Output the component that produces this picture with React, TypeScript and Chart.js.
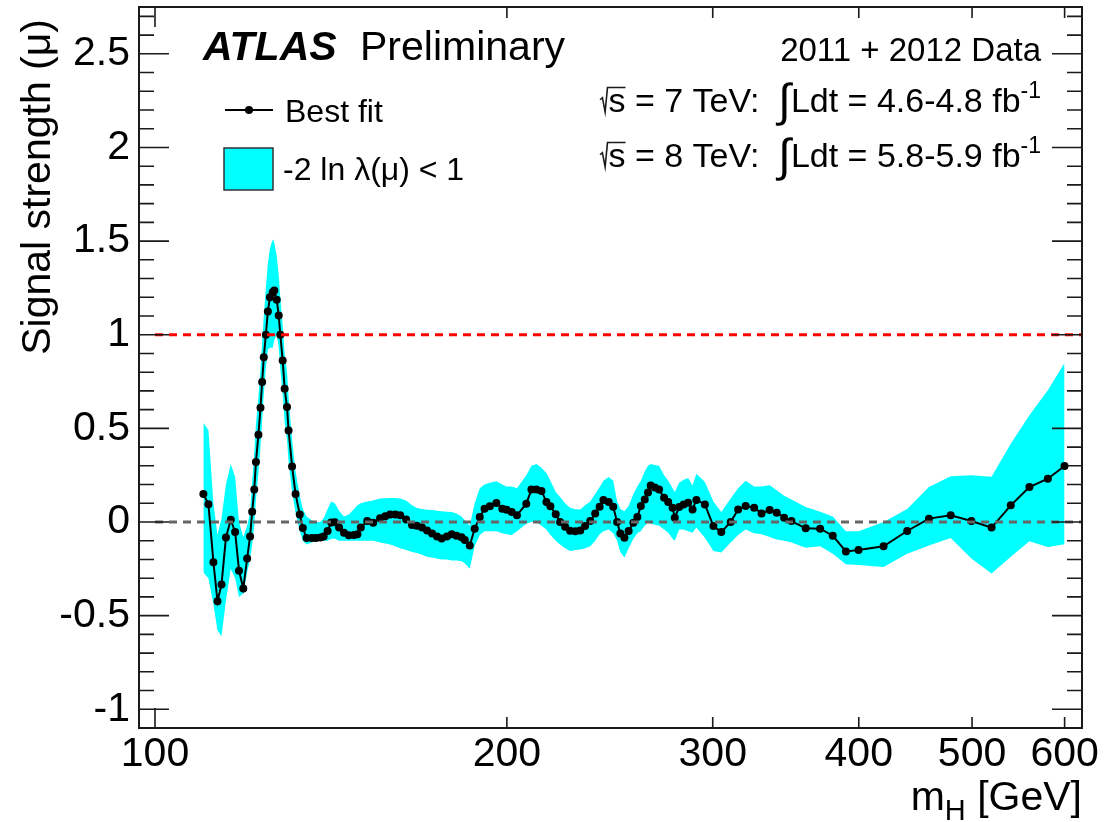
import React, { useEffect, useRef } from "react";
import { Chart, registerables } from "chart.js";

Chart.register(...registerables);

// ---------------- data ----------------
const MASS = [
  110.0, 111.1, 112.2, 113.1, 114.0, 115.0, 116.1, 117.1, 118.0, 119.0, 119.9, 120.6, 121.1, 121.6, 122.0, 122.6,
  123.1, 123.5, 123.9, 124.4, 124.9, 125.4, 126.1, 126.5, 127.1, 127.6, 128.0, 128.6, 129.1, 129.7, 130.1, 131.0,
  131.9, 133.0, 133.8, 134.8, 136.2, 137.3, 138.5, 139.4, 140.5, 141.5, 142.5, 143.7, 145.1, 146.5, 148.0, 149.0,
  150.0, 151.9, 153.7, 155.8, 157.4, 158.9, 160.5, 162.1, 164.0, 165.9, 167.5, 169.2, 170.9, 172.6, 174.3, 175.9,
  177.7, 179.4, 181.1, 182.9, 184.1, 185.9, 187.7, 189.6, 191.4, 193.4, 195.9, 198.2, 199.9, 201.9, 204.0, 207.8,
  209.9, 212.0, 214.1, 216.2, 217.9, 220.2, 222.1, 224.3, 226.5, 228.9, 231.1, 233.3, 235.7, 238.0, 240.1, 241.9,
  244.4, 246.6, 248.5, 250.1, 252.1, 254.2, 256.6, 258.6, 260.4, 262.4, 264.1, 265.5, 267.7, 269.9, 272.6, 274.8,
  277.2, 278.4, 280.8, 283.3, 285.8, 288.3, 290.5, 295.4, 300.4, 305.1, 310.8, 315.4, 320.1, 325.5, 330.3, 335.6,
  340.3, 345.3, 350.3, 360.3, 370.7, 380.0, 390.0, 399.8, 420.0, 440.0, 459.3, 479.4, 499.3, 519.6, 539.6, 559.8,
  580.5, 599.9,
];

const BEST_FIT = [
  0.15, 0.095, -0.215, -0.423, -0.334, -0.083, 0.012, -0.053, -0.26, -0.355, -0.195, -0.077, 0.055, 0.173, 0.32, 0.466,
  0.61, 0.747, 0.88, 1.0, 1.124, 1.2, 1.227, 1.236, 1.187, 1.103, 1.0, 0.863, 0.712, 0.614, 0.489, 0.297,
  0.15, 0.04, -0.032, -0.085, -0.085, -0.086, -0.083, -0.077, -0.048, -0.003, -0.001, -0.03, -0.057, -0.071, -0.07, -0.066,
  -0.03, 0.005, -0.004, 0.02, 0.031, 0.04, 0.04, 0.036, 0.014, -0.016, -0.02, -0.03, -0.045, -0.062, -0.077, -0.088,
  -0.077, -0.065, -0.073, -0.082, -0.096, -0.126, -0.036, 0.027, 0.071, 0.084, 0.101, 0.071, 0.066, 0.054, 0.036, 0.098,
  0.173, 0.173, 0.166, 0.107, 0.084, 0.041, 0.0, -0.026, -0.047, -0.05, -0.045, -0.021, 0.005, 0.045, 0.082, 0.118,
  0.107, 0.082, 0.0, -0.062, -0.084, -0.048, -0.004, 0.027, 0.085, 0.12, 0.157, 0.195, 0.184, 0.174, 0.13, 0.107,
  0.076, 0.023, 0.08, 0.094, 0.103, 0.067, 0.118, 0.094, -0.022, -0.054, 0.0, 0.067, 0.085, 0.076, 0.046, 0.064,
  0.05, 0.023, 0.005, -0.034, -0.036, -0.073, -0.157, -0.15, -0.13, -0.048, 0.018, 0.036, 0.005, -0.03, 0.089, 0.187,
  0.231, 0.299,
];

const BAND_LOW = [
  -0.27, -0.3, -0.44, -0.58, -0.61, -0.42, -0.25, -0.3, -0.4, -0.38, -0.27, -0.2, -0.12, -0.02, 0.12, 0.26,
  0.4, 0.54, 0.68, 0.82, 0.92, 0.93, 0.93, 0.97, 1.0, 0.93, 0.82, 0.68, 0.53, 0.44, 0.32, 0.16,
  0.05, -0.05, -0.1, -0.12, -0.11, -0.1, -0.1, -0.1, -0.1, -0.09, -0.09, -0.1, -0.1, -0.1, -0.1, -0.1,
  -0.1, -0.1, -0.1, -0.11, -0.115, -0.12, -0.13, -0.14, -0.15, -0.16, -0.165, -0.175, -0.185, -0.19, -0.195, -0.2,
  -0.2, -0.205, -0.205, -0.21, -0.22, -0.25, -0.13, -0.07, -0.05, -0.05, -0.05, -0.06, -0.065, -0.07, -0.05, -0.01,
  0.0, 0.0, -0.02, -0.04, -0.07, -0.1, -0.12, -0.14, -0.155, -0.15, -0.147, -0.14, -0.13, -0.1, -0.066, -0.05,
  -0.04, -0.06, -0.1, -0.16, -0.19, -0.14, -0.09, -0.06, -0.048, -0.02, -0.004, -0.01, -0.015, -0.02, -0.04, -0.057,
  -0.09, -0.1, -0.04, -0.04, -0.05, -0.057, -0.03, -0.084, -0.155, -0.163, -0.11, -0.07, -0.04, -0.06, -0.066, -0.08,
  -0.094, -0.1, -0.11, -0.137, -0.13, -0.17, -0.225, -0.23, -0.24, -0.17, -0.125, -0.085, -0.195, -0.275, -0.185, -0.103,
  -0.133, -0.119,
];

const BAND_HIGH = [
  0.53, 0.49, 0.1, -0.07, 0.02, 0.2, 0.31, 0.24, 0.0, -0.08, -0.02, 0.05, 0.22, 0.37, 0.52, 0.67,
  0.82, 0.96, 1.1, 1.25, 1.38, 1.46, 1.51, 1.49, 1.42, 1.32, 1.2, 1.05, 0.9, 0.8, 0.67, 0.44,
  0.27, 0.14, 0.07, 0.03, 0.01, 0.0, 0.0, 0.02, 0.07, 0.11, 0.1, 0.06, 0.03, 0.04, 0.07, 0.09,
  0.1, 0.11, 0.115, 0.125, 0.127, 0.128, 0.128, 0.125, 0.115, 0.09, 0.075, 0.07, 0.066, 0.064, 0.06, 0.057,
  0.055, 0.054, 0.045, 0.03, 0.01, -0.02, 0.1, 0.18, 0.2, 0.21, 0.218, 0.2, 0.19, 0.19, 0.18, 0.25,
  0.3, 0.31, 0.29, 0.26, 0.22, 0.16, 0.133, 0.1, 0.076, 0.068, 0.067, 0.09, 0.11, 0.15, 0.187, 0.22,
  0.24, 0.22, 0.11, 0.07, 0.057, 0.085, 0.15, 0.19, 0.22, 0.27, 0.3, 0.31, 0.305, 0.3, 0.25, 0.22,
  0.18, 0.16, 0.21, 0.225, 0.235, 0.195, 0.258, 0.214, 0.11, 0.053, 0.125, 0.18, 0.22, 0.19, 0.19, 0.196,
  0.17, 0.14, 0.12, 0.08, 0.055, 0.03, -0.05, -0.05, 0.0, 0.07, 0.187, 0.244, 0.25, 0.242, 0.418, 0.57,
  0.703, 0.849,
];

const X_TICKS = [100, 200, 300, 400, 500, 600];
const Y_TICKS = [-1, -0.5, 0, 0.5, 1, 1.5, 2, 2.5];
const X_RANGE = [96.9, 620.9];
const Y_RANGE = [-1.1, 2.75];
const SM_LEVEL = [1, 1];
const ZERO_LEVEL = [0, 0];
const LINE_X = [100, 620.9];

const FONT = '"Liberation Sans", Arial, Helvetica, sans-serif';
const CYAN = "#00FFFF";

const rootDecor = {
  id: "rootDecor",
  afterDraw(chart: any) {
    const { ctx, chartArea, scales } = chart;
    const { left, right, top, bottom } = chartArea;
    const xs = scales.x;
    const ys = scales.y;
    ctx.save();

    // frame
    ctx.strokeStyle = "#1a1a1a";
    ctx.lineWidth = 2;
    ctx.strokeRect(left, top, right - left, bottom - top);

    // y ticks (major every 0.5, minor every 0.1) on both sides
    ctx.lineWidth = 1.6;
    for (let i = Math.ceil(Y_RANGE[0] * 10); i <= Math.floor(Y_RANGE[1] * 10); i++) {
      const py = ys.getPixelForValue(i / 10);
      const len = i % 5 === 0 ? 30 : 15;
      ctx.beginPath();
      ctx.moveTo(left, py);
      ctx.lineTo(left + len, py);
      ctx.moveTo(right, py);
      ctx.lineTo(right - len, py);
      ctx.stroke();
    }
    // x ticks
    X_TICKS.forEach((v) => {
      const px = xs.getPixelForValue(v);
      const len = v === 100 ? 20 : 11;
      ctx.beginPath();
      ctx.moveTo(px, bottom);
      ctx.lineTo(px, bottom - len);
      ctx.moveTo(px, top);
      ctx.lineTo(px, top + len);
      ctx.stroke();
    });

    ctx.fillStyle = "#000";
    ctx.textBaseline = "alphabetic";

    // ATLAS Preliminary
    ctx.textAlign = "left";
    ctx.font = `italic bold 41px ${FONT}`;
    ctx.fillText("ATLAS", 203, 60);
    ctx.font = `41px ${FONT}`;
    ctx.fillText("Preliminary", 360, 60);

    // data label lines
    const RX = 1041;
    ctx.font = `33px ${FONT}`;
    ctx.textAlign = "right";
    ctx.fillText("2011 + 2012 Data", RX, 61);

    const lumiLine = (energy: string, lumi: string, base: number) => {
      const f = 34;
      ctx.font = `${f}px ${FONT}`;
      const radW = 0.3 * f;
      const part1 = "s = " + energy + " TeV:  ";
      const w1 = ctx.measureText(part1).width;
      const sW = ctx.measureText("s").width;
      ctx.font = `46px ${FONT}`;
      const wInt = ctx.measureText("\u222B").width;
      ctx.font = `${f}px ${FONT}`;
      const part2 = "Ldt = " + lumi + " fb";
      const w2 = ctx.measureText(part2).width;
      ctx.font = `${Math.round(f * 0.68)}px ${FONT}`;
      const wSup = ctx.measureText("-1").width;
      const total = radW + w1 + wInt + w2 + wSup;
      let x = RX - total;
      ctx.textAlign = "left";
      // radical
      ctx.lineWidth = 1.6;
      ctx.beginPath();
      ctx.moveTo(x + 0.05 * f, base - 0.36 * f);
      ctx.lineTo(x + 0.12 * f, base - 0.42 * f);
      ctx.lineTo(x + 0.2 * f, base);
      ctx.lineTo(x + 0.27 * f, base - 0.72 * f);
      ctx.lineTo(x + radW + sW, base - 0.72 * f);
      ctx.stroke();
      x += radW;
      ctx.font = `${f}px ${FONT}`;
      ctx.fillText(part1, x, base);
      x += w1;
      ctx.font = `46px ${FONT}`;
      ctx.fillText("\u222B", x, base + 4);
      x += wInt;
      ctx.font = `${f}px ${FONT}`;
      ctx.fillText(part2, x, base);
      x += w2;
      ctx.font = `${Math.round(f * 0.68)}px ${FONT}`;
      ctx.fillText("-1", x, base - 0.42 * f);
    };
    lumiLine("7", "4.6-4.8", 112);
    lumiLine("8", "5.8-5.9", 167);

    // legend
    ctx.strokeStyle = "#000";
    ctx.lineWidth = 2;
    ctx.beginPath();
    ctx.moveTo(225, 110);
    ctx.lineTo(273, 110);
    ctx.stroke();
    ctx.beginPath();
    ctx.arc(249, 110, 4, 0, Math.PI * 2);
    ctx.fill();
    ctx.fillStyle = CYAN;
    ctx.fillRect(224, 148, 49, 42);
    ctx.strokeStyle = "#333";
    ctx.lineWidth = 1.5;
    ctx.strokeRect(224, 148, 49, 42);
    ctx.fillStyle = "#000";
    ctx.font = `32px ${FONT}`;
    ctx.textAlign = "left";
    ctx.fillText("Best fit", 285, 122);
    ctx.fillText("-2 ln \u03BB(\u03BC) < 1", 283, 180);

    // x axis title
    ctx.font = `41px ${FONT}`;
    const tGeV = " [GeV]";
    const wGeV = ctx.measureText(tGeV).width;
    ctx.textAlign = "right";
    ctx.fillText(tGeV, right, 810);
    ctx.font = `29px ${FONT}`;
    const wH = ctx.measureText("H").width;
    ctx.fillText("H", right - wGeV, 820);
    ctx.font = `41px ${FONT}`;
    ctx.fillText("m", right - wGeV - wH, 810);

    // y axis title
    ctx.save();
    ctx.translate(50, top + 12);
    ctx.rotate(-Math.PI / 2);
    ctx.textAlign = "right";
    ctx.font = `41px ${FONT}`;
    ctx.fillText("Signal strength (\u03BC)", 0, 0);
    ctx.restore();

    ctx.restore();
  },
};

export default function App() {
  const canvasRef = useRef<HTMLCanvasElement | null>(null);

  useEffect(() => {
    const canvas = canvasRef.current;
    if (!canvas) return;
    const pts = (ys: number[]) => MASS.map((m, i) => ({ x: m, y: ys[i] }));
    const chart = new Chart(canvas, {
      type: "line",
      data: {
        datasets: [
          {
            label: "mu = 1",
            data: LINE_X.map((x, i) => ({ x, y: SM_LEVEL[i] })),
            borderColor: "#FF0000",
            borderWidth: 3,
            borderDash: [8, 6],
            pointRadius: 0,
            fill: false,
            order: 0,
          },
          {
            label: "mu = 0",
            data: LINE_X.map((x, i) => ({ x, y: ZERO_LEVEL[i] })),
            borderColor: "#666666",
            borderWidth: 3,
            borderDash: [8, 6],
            pointRadius: 0,
            fill: false,
            order: 1,
          },
          {
            label: "Best fit",
            data: pts(BEST_FIT),
            borderColor: "#000",
            borderWidth: 2,
            pointRadius: 4,
            pointBackgroundColor: "#000",
            pointBorderWidth: 0,
            fill: false,
            order: 2,
          },
          {
            label: "band high",
            data: pts(BAND_HIGH),
            borderWidth: 0,
            borderColor: "rgba(0,0,0,0)",
            backgroundColor: CYAN,
            pointRadius: 0,
            fill: "+1",
            order: 3,
          },
          {
            label: "band low",
            data: pts(BAND_LOW),
            borderWidth: 0,
            borderColor: "rgba(0,0,0,0)",
            pointRadius: 0,
            fill: false,
            order: 4,
          },
        ],
      },
      options: {
        responsive: false,
        animation: false,
        events: [],
        layout: { padding: { top: 7, right: 33, left: 0, bottom: 0 } },
        plugins: { legend: { display: false }, tooltip: { enabled: false } },
        scales: {
          x: {
            type: "logarithmic",
            min: X_RANGE[0],
            max: X_RANGE[1],
            afterBuildTicks: (s: any) => {
              s.ticks = X_TICKS.map((v) => ({ value: v }));
            },
            afterFit: (s: any) => {
              s.height = 94;
              s.paddingLeft = 0;
              s.paddingRight = 0;
            },
            ticks: {
              callback: (v: any) => String(v),
              autoSkip: false,
              maxRotation: 0,
              minRotation: 0,
              padding: 2,
              color: "#000",
              font: { family: FONT, size: 41 },
            },
            grid: { display: false, drawTicks: false },
            border: { display: false },
          },
          y: {
            type: "linear",
            min: Y_RANGE[0],
            max: Y_RANGE[1],
            afterBuildTicks: (s: any) => {
              s.ticks = Y_TICKS.map((v) => ({ value: v }));
            },
            afterFit: (s: any) => {
              s.width = 139;
              s.paddingTop = 0;
              s.paddingBottom = 0;
            },
            ticks: {
              callback: (v: any) => String(v),
              padding: 9,
              color: "#000",
              font: { family: FONT, size: 41 },
            },
            grid: { display: false, drawTicks: false },
            border: { display: false },
          },
        },
      },
      plugins: [rootDecor],
    } as any);
    return () => chart.destroy();
  }, []);

  return (
    <div style={{ position: "fixed", left: 0, top: 0, width: 1115, height: 822, background: "#fff" }}>
      <canvas ref={canvasRef} width={1115} height={822} style={{ display: "block" }} />
    </div>
  );
}
